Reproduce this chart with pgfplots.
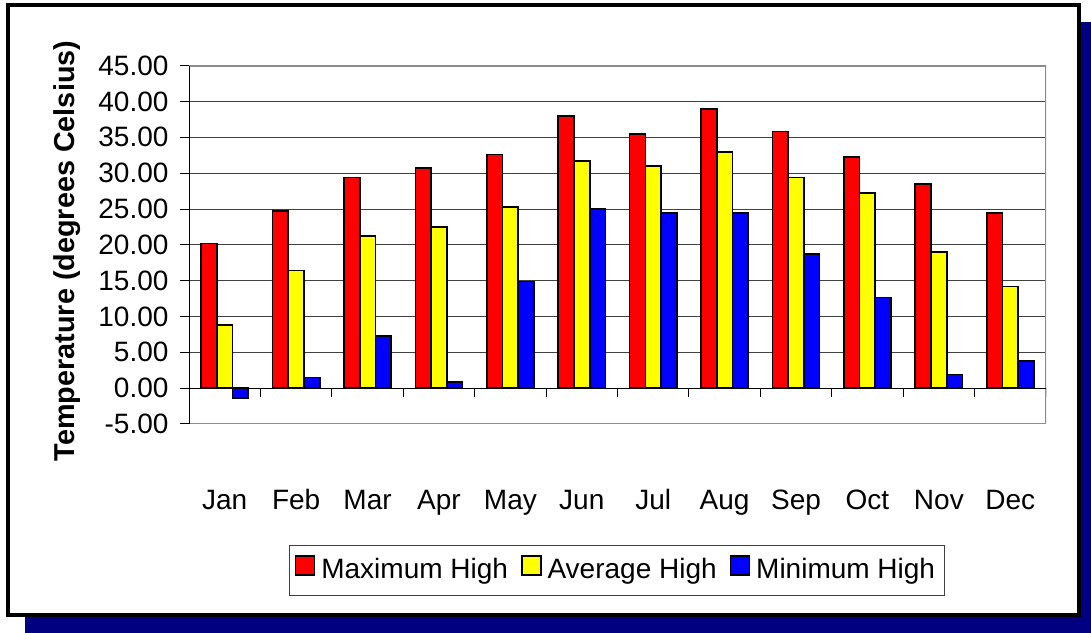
\documentclass[border=0pt]{standalone}
\usepackage{pgfplots}
\pgfplotsset{compat=1.18}
\usepackage{fontspec}
\setmainfont{Liberation Sans}
\definecolor{navyshadow}{HTML}{000080}
\definecolor{gridc}{HTML}{404040}
\definecolor{framec}{HTML}{8C8C8C}
\definecolor{barred}{HTML}{FF0000}
\definecolor{baryellow}{HTML}{FFFF00}
\definecolor{barblue}{HTML}{0000FF}
\begin{document}
\fontsize{28bp}{33bp}\selectfont
\begin{tikzpicture}
\useasboundingbox (0bp,0bp) rectangle (1091bp,633bp);
\fill[navyshadow] (25bp,0bp) rectangle (1091bp,611bp);
\filldraw[fill=white, draw=black, line width=3.5bp] (8bp,18bp) rectangle (1079bp,628bp);
\begin{axis}[
  at={(189bp,209bp)}, anchor=south west, scale only axis,
  width=857bp, height=358.3bp,
  xmin=-0.5, xmax=11.5, ymin=-5, ymax=45,
  ybar=0pt, bar width=0.22,
  axis line style={draw=none},
  ytick={-5,0,...,45},
  ytick pos=left,
  tick align=outside,
  major tick length=9bp,
  ytick style={black, line width=1bp},
  ymajorgrids, grid style={gridc, line width=1bp},
  xtick={0,...,11},
  xticklabels={Jan,Feb,Mar,Apr,May,Jun,Jul,Aug,Sep,Oct,Nov,Dec},
  xtick style={draw=none},
  xticklabel style={anchor=base, yshift=-76bp},
  yticklabel style={xshift=-2bp},
  ticklabel style={font=\fontsize{28bp}{33bp}\selectfont},
  /pgf/number format/.cd, fixed, fixed zerofill, precision=2, assume math mode=true,
  /pgfplots/.cd,
  ylabel={\bfseries Temperature (degrees Celsius)},
  ylabel style={at={(axis description cs:-0.1424,0.483)}, anchor=center, font=\fontsize{28.8bp}{34bp}\selectfont},
  legend columns=3,
  legend style={at={(axis description cs:0.4994,-0.4075)}, anchor=center,
    draw=gridc, line width=1bp, font=\fontsize{28bp}{33bp}\selectfont,
    inner xsep=5bp, inner ysep=10bp,
    nodes={inner xsep=4bp, inner ysep=2bp},
    /tikz/every odd column/.append style={column sep=2bp},
    /tikz/every even column/.append style={column sep=9bp}},
  legend image code/.code={\draw[#1, draw=black, line width=1.5bp] (0bp,-4bp) rectangle (19bp,15bp);},
  every axis plot/.append style={draw=black, line width=1.7bp},
]
\addplot[fill=barred, bar shift=-0.22] coordinates {
 (0,20.2) (1,24.7) (2,29.4) (3,30.7) (4,32.6) (5,38.0)
 (6,35.5) (7,39.0) (8,35.8) (9,32.3) (10,28.5) (11,24.4)};
\addlegendentry{Maximum High}
\addplot[fill=baryellow, bar shift=0] coordinates {
 (0,8.8) (1,16.4) (2,21.2) (3,22.5) (4,25.3) (5,31.7)
 (6,31.0) (7,33.0) (8,29.4) (9,27.2) (10,19.0) (11,14.2)};
\addlegendentry{Average High}
\addplot[fill=barblue, bar shift=0.22] coordinates {
 (0,-1.35) (1,1.5) (2,7.3) (3,0.9) (4,14.9) (5,25.0)
 (6,24.4) (7,24.4) (8,18.7) (9,12.65) (10,1.9) (11,3.8)};
\addlegendentry{Minimum High}
\draw[framec, line width=2bp] (rel axis cs:0,0) -- (rel axis cs:1,0) -- (rel axis cs:1,1) -- (rel axis cs:0,1);
\draw[black, line width=1.2bp] (rel axis cs:0,0) -- (rel axis cs:0,1);
\draw[black, line width=1.2bp] (axis cs:-0.5,0) -- (axis cs:11.5,0);
\pgfplotsinvokeforeach{0.5,1.5,...,11.5}{\draw[black, line width=1bp] (axis cs:#1,0) -- ++(0bp,-9bp);}
\end{axis}
\end{tikzpicture}
\end{document}
